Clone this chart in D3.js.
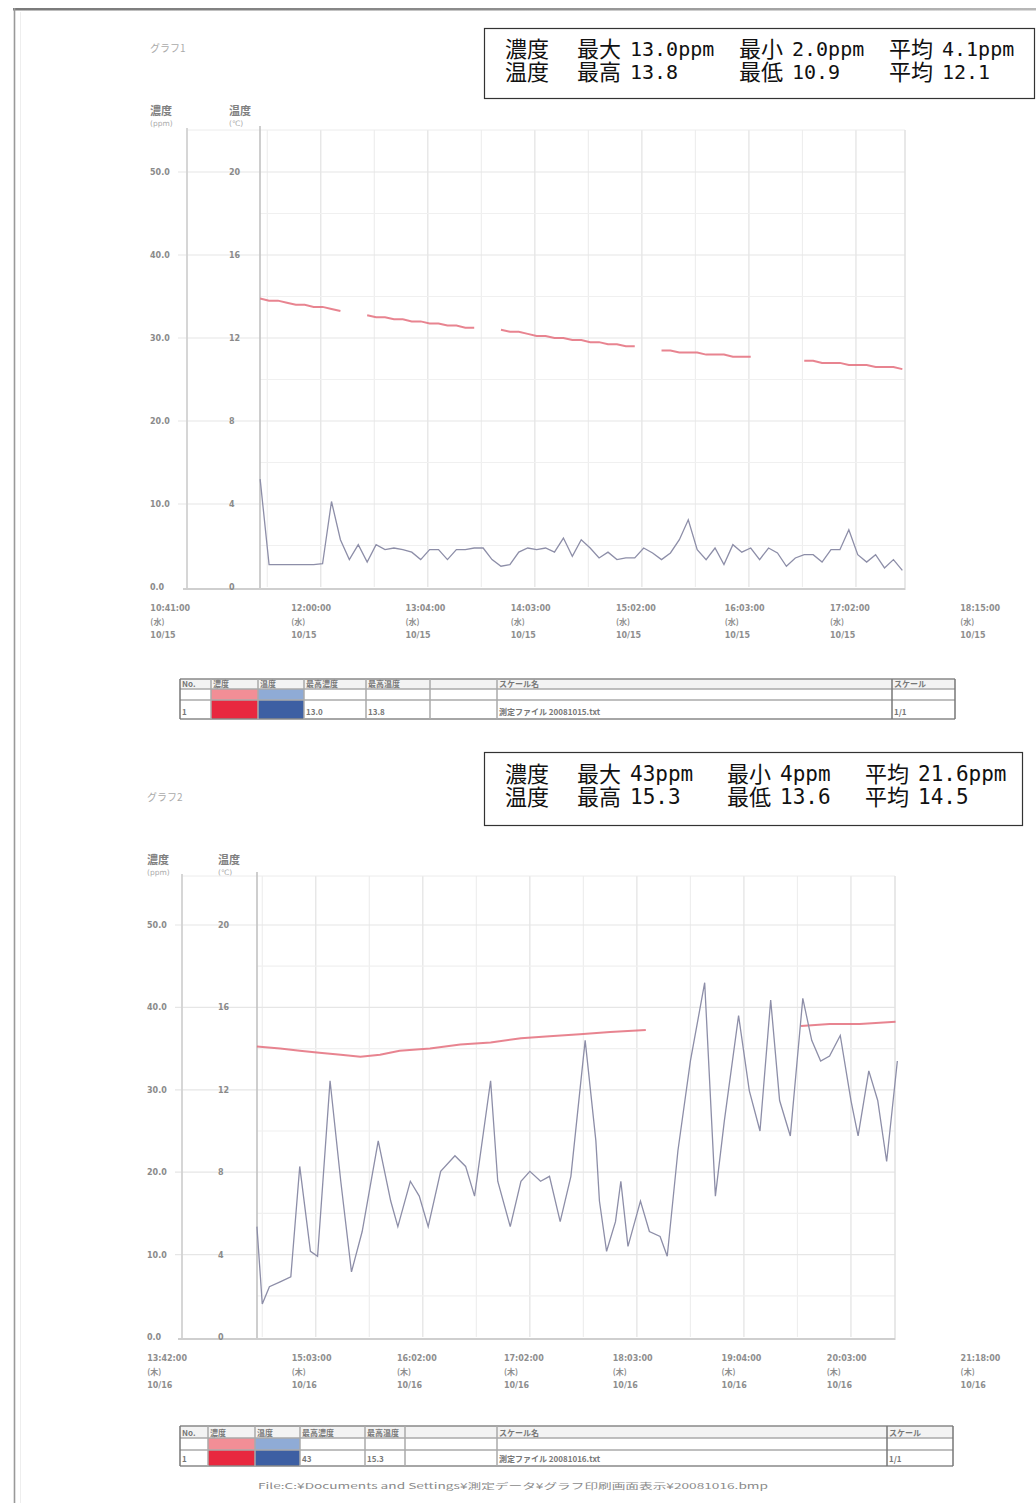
<!DOCTYPE html>
<html><head><meta charset="utf-8">
<script src="https://cdn.jsdelivr.net/npm/d3@7"></script>
<style>body{margin:0;background:#fff}svg{display:block}</style>
</head><body>
<script>
const parse = d3.timeParse("%H:%M");

// ---------- shared axis data ----------
const concTicks = [0, 10, 20, 30, 40, 50];
const concTickLabels = ["0.0", "10.0", "20.0", "30.0", "40.0", "50.0"];
const tempTicks = [0, 4, 8, 12, 16, 20];
const tempTickLabels = ["0", "4", "8", "12", "16", "20"];
const statNames = [["濃度", "最大", "最小", "平均"], ["温度", "最高", "最低", "平均"]];

// ---------- chart 1 data ----------
const c1TickTimes = ["10:41", "12:00", "13:04", "14:03", "15:02", "16:03", "17:02", "18:15"];
const c1TickLabels = ["10:41:00", "12:00:00", "13:04:00", "14:03:00", "15:02:00", "16:03:00", "17:02:00", "18:15:00"];
const c1TickDays = ["(水)", "(水)", "(水)", "(水)", "(水)", "(水)", "(水)", "(水)"];
const c1TickDates = ["10/15", "10/15", "10/15", "10/15", "10/15", "10/15", "10/15", "10/15"];
const c1Times = ["11:26","11:31","11:36","11:41","11:46","11:51","11:56","12:01","12:06","12:11",
  "12:16","12:21","12:26","12:31","12:36","12:41","12:46","12:51","12:56","13:01",
  "13:06","13:11","13:16","13:21","13:26","13:31","13:36","13:41","13:46","13:51",
  "13:56","14:01","14:06","14:11","14:16","14:21","14:26","14:31","14:36","14:41",
  "14:46","14:51","14:56","15:01","15:06","15:11","15:16","15:21","15:26","15:31",
  "15:36","15:41","15:46","15:51","15:56","16:01","16:06","16:11","16:16","16:21",
  "16:26","16:31","16:36","16:41","16:46","16:51","16:56","17:01","17:06","17:11",
  "17:16","17:21","17:26"];
const c1Conc = [13.0, 2.7, 2.7, 2.7, 2.7, 2.7, 2.7, 2.8, 10.3, 5.7,
  3.3, 5.1, 3.0, 5.1, 4.5, 4.7, 4.5, 4.2, 3.3, 4.5,
  4.5, 3.3, 4.5, 4.5, 4.7, 4.7, 3.3, 2.5, 2.7, 4.2,
  4.7, 4.5, 4.7, 4.2, 5.9, 3.7, 5.7, 4.7, 3.5, 4.2,
  3.3, 3.5, 3.5, 4.7, 4.1, 3.3, 4.1, 5.7, 8.1, 4.5,
  3.3, 4.7, 2.7, 5.1, 4.2, 4.7, 3.3, 4.7, 4.1, 2.5,
  3.5, 3.9, 3.9, 3.0, 4.5, 4.5, 6.9, 3.9, 3.0, 3.9,
  2.3, 3.3, 2.0];
const c1Temp = [13.9, 13.8, 13.8, 13.7, 13.6, 13.6, 13.5, 13.5, 13.4, 13.3,
  null, null, 13.1, 13.0, 13.0, 12.9, 12.9, 12.8, 12.8, 12.7,
  12.7, 12.6, 12.6, 12.5, 12.5, null, null, 12.4, 12.3, 12.3,
  12.2, 12.1, 12.1, 12.0, 12.0, 11.9, 11.9, 11.8, 11.8, 11.7,
  11.7, 11.6, 11.6, null, null, 11.4, 11.4, 11.3, 11.3, 11.3,
  11.2, 11.2, 11.2, 11.1, 11.1, 11.1, null, null, null, null,
  null, 10.9, 10.9, 10.8, 10.8, 10.8, 10.7, 10.7, 10.7, 10.6,
  10.6, 10.6, 10.5];
const c1StatConc = ["13.0ppm", "2.0ppm", "4.1ppm"];
const c1StatTemp = ["13.8", "10.9", "12.1"];

// ---------- chart 2 data ----------
const c2TickTimes = ["13:42", "15:03", "16:02", "17:02", "18:03", "19:04", "20:03", "21:18"];
const c2TickLabels = ["13:42:00", "15:03:00", "16:02:00", "17:02:00", "18:03:00", "19:04:00", "20:03:00", "21:18:00"];
const c2TickDays = ["(木)", "(木)", "(木)", "(木)", "(木)", "(木)", "(木)", "(木)"];
const c2TickDates = ["10/16", "10/16", "10/16", "10/16", "10/16", "10/16", "10/16", "10/16"];
const c2ConcTimes = ["14:27","14:30","14:34","14:40","14:46","14:51","14:57","15:01","15:08","15:14",
  "15:20","15:26","15:35","15:42","15:46","15:53","15:58","16:03","16:10","16:18",
  "16:24","16:29","16:38","16:42","16:49","16:55","17:00","17:06","17:11","17:17",
  "17:23","17:31","17:37","17:39","17:43","17:48","17:51","17:55","18:02","18:07",
  "18:13","18:17","18:23","18:30","18:38","18:44","18:49","18:57","19:03","19:09",
  "19:15","19:20","19:26","19:33","19:38","19:43","19:48","19:54","20:00","20:04",
  "20:10","20:15","20:20","20:26"];
const c2Conc = [13.4, 4.0, 6.1, 6.7, 7.3, 20.7, 10.4, 9.8, 31.1, 18.9,
  7.9, 12.8, 23.8, 16.5, 13.4, 18.9, 17.1, 13.4, 20.1, 22.0,
  20.7, 17.1, 31.1, 18.9, 13.4, 18.9, 20.1, 18.9, 19.5, 14.0,
  19.5, 36.0, 23.8, 16.5, 10.4, 14.0, 18.9, 11.0, 16.5, 12.8,
  12.2, 9.8, 22.6, 33.5, 43.0, 17.1, 26.2, 39.0, 29.9, 25.0,
  40.9, 28.7, 24.4, 41.1, 36.0, 33.5, 34.1, 36.6, 28.7, 24.4,
  32.3, 28.7, 21.3, 33.5];
const c2TempTimes = ["14:27","14:40","14:51","15:02","15:14","15:25","15:36","15:47","16:04","16:21",
  "16:38","16:55","17:11","17:28","17:45","18:05","18:35","19:32","19:48","20:05","20:25"];
const c2Temp = [14.1, 14.0, 13.9, 13.8, 13.7, 13.6, 13.7, 13.9, 14.0, 14.2,
  14.3, 14.5, 14.6, 14.7, 14.8, 14.9, null, 15.1, 15.2, 15.2, 15.3];
const c2StatConc = ["43ppm", "4ppm", "21.6ppm"];
const c2StatTemp = ["15.3", "13.6", "14.5"];

// ---------- drawing ----------
const W = 1036, H = 1503;
const svg = d3.select("body").append("svg").attr("width", W).attr("height", H);
const SANS = "'DejaVu Sans', sans-serif";
const CJK = "'Noto Sans CJK JP', sans-serif";

// scan border
const grad = svg.append("defs").append("linearGradient").attr("id", "topg");
grad.append("stop").attr("offset", "0%").attr("stop-color", "#7a7a7a");
grad.append("stop").attr("offset", "45%").attr("stop-color", "#8c8c8c");
grad.append("stop").attr("offset", "100%").attr("stop-color", "#b8b8b8");
svg.append("rect").attr("x", 13).attr("y", 8).attr("width", W - 13).attr("height", 2.5).attr("fill", "url(#topg)");
svg.append("line").attr("x1", 14.5).attr("x2", 14.5).attr("y1", 8).attr("y2", H).attr("stroke", "#999").attr("stroke-width", 1.6);
svg.append("line").attr("x1", 20.5).attr("x2", 20.5).attr("y1", 12).attr("y2", H).attr("stroke", "#eee").attr("stroke-width", 1);

function drawChart(cfg, dt) {
  const g = svg.append("g");
  const x = d3.scaleTime().domain([parse(cfg.domainStart), parse(cfg.domainEnd)]).range([cfg.axisL, cfg.rangeEnd]);
  const yC = d3.scaleLinear().domain([0, 50]).range([cfg.y0, cfg.yTop]);
  const yT = d3.scaleLinear().domain([0, 20]).range([cfg.y0, cfg.yTop]);

  // title & headers
  g.append("text").attr("x", cfg.leftLabelX).attr("y", cfg.titleY).text(cfg.title)
    .attr("font-family", CJK).attr("font-size", 10).attr("fill", "#aaa");
  [[cfg.leftLabelX, "濃度", "(ppm)"], [cfg.rightLabelX, "温度", "(℃)"]].forEach(h => {
    g.append("text").attr("x", h[0]).attr("y", cfg.headerY).text(h[1])
      .attr("font-family", CJK).attr("font-size", 11).attr("font-weight", "bold").attr("fill", "#808080");
    g.append("text").attr("x", h[0]).attr("y", cfg.headerY + 11).text(h[2])
      .attr("font-family", SANS).attr("font-size", 7.5).attr("fill", "#aaa");
  });

  // vertical grid (every 30 min)
  const vg = d3.timeMinute.every(30).range(x.invert(cfg.axisR + 1), x.invert(cfg.plotRight));
  g.append("g").selectAll("line").data(vg).join("line")
    .attr("x1", d => x(d)).attr("x2", d => x(d)).attr("y1", cfg.top).attr("y2", cfg.y0)
    .attr("stroke", (d) => d.getMinutes() === 0 ? "#e2e2e2" : "#eeeeee").attr("stroke-width", 1.2);

  // horizontal grid
  const mids = concTicks.slice(1).map((c, i) => (c + concTicks[i]) / 2);
  g.append("g").selectAll("line").data(mids).join("line")
    .attr("x1", cfg.axisR).attr("x2", cfg.plotRight).attr("y1", d => yC(d)).attr("y2", d => yC(d))
    .attr("stroke", "#f0f0f0").attr("stroke-width", 1.2);
  g.append("g").selectAll("line").data(concTicks.slice(1)).join("line")
    .attr("x1", cfg.leftLabelX + 28).attr("x2", cfg.plotRight).attr("y1", d => yC(d)).attr("y2", d => yC(d))
    .attr("stroke", "#e6e6e6").attr("stroke-width", 1.2);

  // frame
  g.append("line").attr("x1", cfg.axisL).attr("x2", cfg.plotRight).attr("y1", cfg.top).attr("y2", cfg.top)
    .attr("stroke", "#ececec");
  g.append("line").attr("x1", cfg.plotRight).attr("x2", cfg.plotRight).attr("y1", cfg.top).attr("y2", cfg.y0 + 3)
    .attr("stroke", "#e0e0e0").attr("stroke-width", 1.5);
  g.append("line").attr("x1", cfg.axisL).attr("x2", cfg.axisL).attr("y1", cfg.top - 2).attr("y2", cfg.y0 + 3)
    .attr("stroke", "#d2d2d2").attr("stroke-width", 1.8);
  g.append("line").attr("x1", cfg.axisR).attr("x2", cfg.axisR).attr("y1", cfg.top - 4).attr("y2", cfg.y0 + 3)
    .attr("stroke", "#c2c2c2").attr("stroke-width", 1.6);
  g.append("line").attr("x1", cfg.axisL - 4).attr("x2", cfg.plotRight).attr("y1", cfg.y0 + 2).attr("y2", cfg.y0 + 2)
    .attr("stroke", "#cfcfcf").attr("stroke-width", 2);

  // y axes (labels)
  const la = g.append("g").attr("transform", `translate(${cfg.leftLabelX},0)`)
    .call(d3.axisLeft(yC).tickValues(concTicks).tickSize(0).tickFormat((d, i) => concTickLabels[i]));
  const ra = g.append("g").attr("transform", `translate(${cfg.rightLabelX},0)`)
    .call(d3.axisLeft(yT).tickValues(tempTicks).tickSize(0).tickFormat((d, i) => tempTickLabels[i]));
  [la, ra].forEach(a => {
    a.select(".domain").remove();
    a.selectAll("text").attr("x", 0).attr("text-anchor", "start").attr("fill", "#8a8a8a")
      .attr("font-family", SANS).attr("font-size", 8).attr("font-weight", "bold");
  });

  // x axis labels
  const xa = g.append("g").attr("transform", `translate(0,${cfg.y0})`)
    .call(d3.axisBottom(x).tickValues(dt.tickTimes.map(parse)).tickSize(0).tickFormat(""));
  xa.select(".domain").remove();
  xa.selectAll(".tick").each(function (d, i) {
    const t = d3.select(this);
    [dt.tickLabels[i], dt.tickDays[i], dt.tickDates[i]].forEach((s, k) => {
      t.append("text").attr("x", -30).attr("y", cfg.xLabelY - cfg.y0 + k * 13.5).text(s)
        .attr("text-anchor", "start").attr("font-family", k === 1 ? CJK : SANS)
        .attr("font-size", 8).attr("font-weight", "bold").attr("fill", "#8e8e8e");
    });
  });

  // data lines
  const tempData = dt.tempTimes.map((s, i) => ({ t: parse(s), v: dt.temp[i] }));
  const concData = dt.concTimes.map((s, i) => ({ t: parse(s), v: dt.conc[i] }));
  g.append("path").datum(tempData)
    .attr("d", d3.line().defined(d => d.v != null).x(d => x(d.t)).y(d => yT(d.v)))
    .attr("fill", "none").attr("stroke", "#e46e7c").attr("stroke-width", 2).attr("opacity", 0.85);
  g.append("path").datum(concData)
    .attr("d", d3.line().x(d => x(d.t)).y(d => yC(d.v)))
    .attr("fill", "none").attr("stroke", "#8d8ea8").attr("stroke-width", 1.3);

  // stats box
  const b = cfg.box;
  g.append("rect").attr("x", b.x).attr("y", b.y).attr("width", b.w).attr("height", b.h)
    .attr("fill", "#fff").attr("stroke", "#333").attr("stroke-width", 1.2);
  const vals = [dt.statConc, dt.statTemp];
  [0, 1].forEach(r => {
    const by = b.base + r * 23;
    g.append("text").attr("x", b.cols[0]).attr("y", by).text(statNames[r][0])
      .attr("font-family", CJK).attr("font-size", 22).attr("fill", "#111");
    [0, 1, 2].forEach(c => {
      const cx = b.cols[1 + c];
      g.append("text").attr("x", cx).attr("y", by).text(statNames[r][1 + c])
        .attr("font-family", CJK).attr("font-size", 22).attr("fill", "#111");
      g.append("text").attr("x", cx + 53).attr("y", by - 1).text(vals[r][c])
        .attr("font-family", "'DejaVu Sans Mono', monospace").attr("font-size", b.numSize).attr("fill", "#111");
    });
  });

  // legend table
  const L = cfg.table;
  const tg = g.append("g");
  const x0 = L.cols[0], x1 = L.cols[L.cols.length - 1];
  tg.append("rect").attr("x", L.cols[1]).attr("y", L.rows[1]).attr("width", L.cols[2] - L.cols[1]).attr("height", L.rows[2] - L.rows[1]).attr("fill", "#f28e96");
  tg.append("rect").attr("x", L.cols[1]).attr("y", L.rows[2]).attr("width", L.cols[2] - L.cols[1]).attr("height", L.rows[3] - L.rows[2]).attr("fill", "#e8283f");
  tg.append("rect").attr("x", L.cols[2]).attr("y", L.rows[1]).attr("width", L.cols[3] - L.cols[2]).attr("height", L.rows[2] - L.rows[1]).attr("fill", "#8fabd6");
  tg.append("rect").attr("x", L.cols[2]).attr("y", L.rows[2]).attr("width", L.cols[3] - L.cols[2]).attr("height", L.rows[3] - L.rows[2]).attr("fill", "#3d5fa3");
  tg.append("rect").attr("x", L.cols[0]).attr("y", L.rows[0]).attr("width", x1 - x0).attr("height", L.rows[1] - L.rows[0]).attr("fill", "#f3f3f3");
  L.rows.forEach((ry, i) => tg.append("line").attr("x1", x0).attr("x2", x1).attr("y1", ry).attr("y2", ry)
    .attr("stroke", i === 0 || i === L.rows.length - 1 ? "#888" : "#aaa").attr("stroke-width", 1.5));
  L.cols.forEach((cx, i) => tg.append("line").attr("x1", cx).attr("x2", cx).attr("y1", L.rows[0]).attr("y2", L.rows[L.rows.length - 1])
    .attr("stroke", i === 0 || i === L.cols.length - 1 || i === L.cols.length - 2 ? "#777" : "#aaa").attr("stroke-width", 1.5));
  const hdr = ["No.", "濃度", "温度", "最高濃度", "最高温度", "", "スケール名", "スケール"];
  hdr.forEach((s, i) => tg.append("text").attr("x", L.cols[i] + 2).attr("y", L.rows[1] - 2).text(s)
    .attr("font-family", CJK).attr("font-size", 8).attr("font-weight", "bold").attr("fill", "#777"));
  const row = ["1", "", "", dt.statConc[0].replace("ppm", ""), dt.statTemp[0], "", cfg.fileName, "1/1"];
  row.forEach((s, i) => tg.append("text").attr("x", L.cols[i] + 2).attr("y", L.rows[3] - 4).text(s)
    .attr("font-family", CJK).attr("font-size", 8).attr("font-weight", "bold").attr("fill", "#777"));
}

drawChart({
  title: "グラフ1", axisL: 187, axisR: 260, plotRight: 905, top: 130, y0: 587, yTop: 172,
  domainStart: "10:45", domainEnd: "18:00", rangeEnd: 963,
  leftLabelX: 150, rightLabelX: 229, xLabelY: 611, titleY: 52, headerY: 115,
  box: { x: 484.5, y: 28.5, w: 550, h: 70, base: 57, cols: [505, 577, 739, 889], numSize: 20 },
  table: { rows: [679, 689, 700, 719], cols: [180, 211, 258, 304, 366, 430, 497, 892, 955] },
  fileName: "測定ファイル 20081015.txt"
}, {
  tickTimes: c1TickTimes, tickLabels: c1TickLabels, tickDays: c1TickDays, tickDates: c1TickDates,
  concTimes: c1Times, conc: c1Conc, tempTimes: c1Times, temp: c1Temp,
  statConc: c1StatConc, statTemp: c1StatTemp
});

drawChart({
  title: "グラフ2", axisL: 182, axisR: 257, plotRight: 895, top: 876, y0: 1337, yTop: 925,
  domainStart: "13:45", domainEnd: "21:00", rangeEnd: 958,
  leftLabelX: 147, rightLabelX: 218, xLabelY: 1361, titleY: 801, headerY: 864,
  box: { x: 484.5, y: 752.5, w: 538, h: 73, base: 782, cols: [505, 577, 727, 865], numSize: 21 },
  table: { rows: [1426, 1438, 1450, 1466], cols: [180, 208, 255, 300, 365, 405, 497, 887, 953] },
  fileName: "測定ファイル 20081016.txt"
}, {
  tickTimes: c2TickTimes, tickLabels: c2TickLabels, tickDays: c2TickDays, tickDates: c2TickDates,
  concTimes: c2ConcTimes, conc: c2Conc, tempTimes: c2TempTimes, temp: c2Temp,
  statConc: c2StatConc, statTemp: c2StatTemp
});

// footer
svg.append("text").attr("x", 258).attr("y", 1489).text("File:C:¥Documents and Settings¥測定データ¥グラフ印刷画面表示¥20081016.bmp")
  .attr("font-family", CJK).attr("font-size", 8).attr("fill", "#8a8a8a").attr("textLength", 510).attr("lengthAdjust", "spacingAndGlyphs");
</script>
</body></html>
